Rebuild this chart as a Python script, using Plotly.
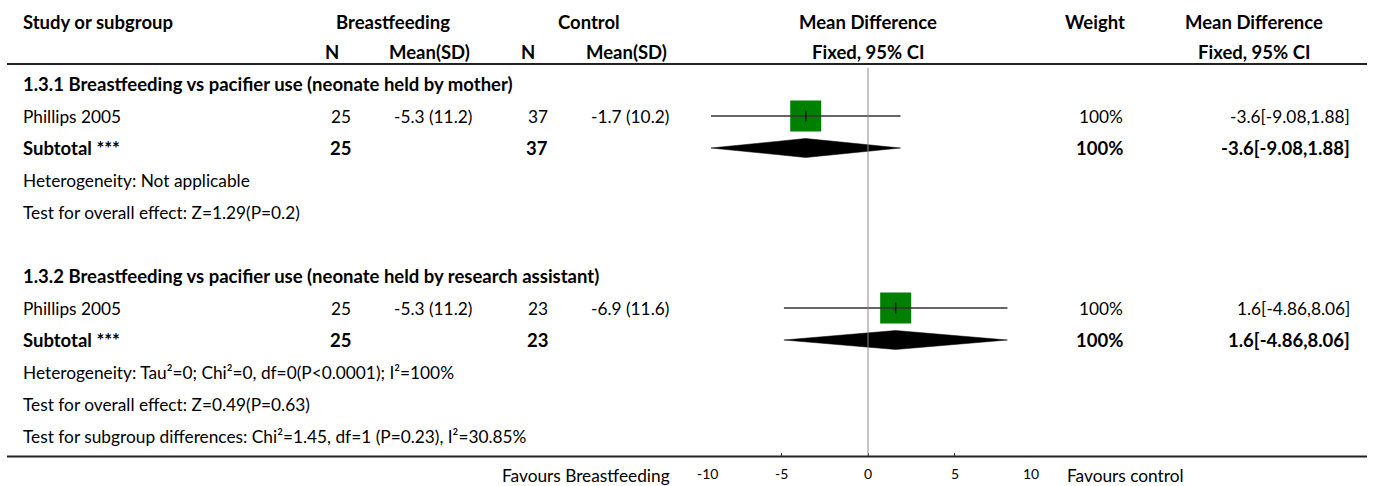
import plotly.graph_objects as go

# ---- data -------------------------------------------------------------
SUBGROUP_TITLES = [
    "1.3.1 Breastfeeding vs pacifier use (neonate held by mother)",
    "1.3.2 Breastfeeding vs pacifier use (neonate held by research assistant)",
]
STUDIES = ["Phillips 2005", "Phillips 2005"]
BF_N = [25, 25]
BF_MEAN = [-5.3, -5.3]
BF_SD = [11.2, 11.2]
CTL_N = [37, 23]
CTL_MEAN = [-1.7, -6.9]
CTL_SD = [10.2, 11.6]
MEAN_DIFF = [-3.6, 1.6]
CI_LOW = [-9.08, -4.86]
CI_HIGH = [1.88, 8.06]
WEIGHT = [100, 100]
HETEROGENEITY = [
    "Heterogeneity: Not applicable",
    "Heterogeneity: Tau²=0; Chi²=0, df=0(P<0.0001); I²=100%",
]
OVERALL_EFFECT = [
    "Test for overall effect: Z=1.29(P=0.2)",
    "Test for overall effect: Z=0.49(P=0.63)",
]
SUBGROUP_TEST = "Test for subgroup differences: Chi²=1.45, df=1 (P=0.23), I²=30.85%"
TICK_VALUES = [-10, -5, 0, 5, 10]
FAVOURS_LEFT = "Favours Breastfeeding"
FAVOURS_RIGHT = "Favours control"

# ---- layout helpers ---------------------------------------------------
W, H = 1375, 486
FONT = "Lato, Roboto, sans-serif"
FS = 17.3        # regular text
FS_BOLD = 18.5   # bold text
ROW0_PX, ROW_PX = 84, 32  # pixel centre of row 0 and row pitch


def px(x):
    return x / W


def row_of(ypx):
    return (ypx - ROW0_PX) / ROW_PX


X_LEFT_PX, X_RIGHT_PX = 695, 1041  # plot span for -10 .. 10
AXIS_Y_PX = 456.5

fig = go.Figure()

rows_study = [1 + 6 * g for g in range(len(STUDIES))]
rows_total = [2 + 6 * g for g in range(len(STUDIES))]

# weighted squares
fig.add_trace(go.Scatter(
    x=MEAN_DIFF, y=rows_study, mode="markers",
    marker=dict(symbol="square", color="#008000", opacity=1,
                size=[31 * (w / 100) ** 0.5 for w in WEIGHT],
                line=dict(width=0)),
    hoverinfo="skip", showlegend=False))

# confidence-interval whiskers (drawn over the squares)
cx, cy = [], []
for lo, hi, r in zip(CI_LOW, CI_HIGH, rows_study):
    cx += [lo, hi, None]
    cy += [r, r, None]
fig.add_trace(go.Scatter(x=cx, y=cy, mode="lines",
                         line=dict(color="#333333", width=1.5),
                         hoverinfo="skip", showlegend=False))

# point estimate tick inside each square
fig.add_trace(go.Scatter(
    x=MEAN_DIFF, y=rows_study, mode="markers",
    marker=dict(symbol="line-ns", size=8, opacity=1,
                line=dict(color="#111111", width=1.5)),
    hoverinfo="skip", showlegend=False))

# pooled diamonds
HALF = 9.5 / ROW_PX
for md, lo, hi, r in zip(MEAN_DIFF, CI_LOW, CI_HIGH, rows_total):
    fig.add_trace(go.Scatter(
        x=[lo, md, hi, md, lo], y=[r, r - HALF, r, r + HALF, r],
        mode="lines", fill="toself", fillcolor="#000000",
        line=dict(color="#000000", width=0.5),
        hoverinfo="skip", showlegend=False))

# line of no effect
fig.add_shape(type="line", xref="x", yref="y",
              x0=0, x1=0, y0=row_of(68), y1=row_of(AXIS_Y_PX),
              line=dict(color="#8c8c8c", width=1))

# horizontal rules
for ypx in (64, AXIS_Y_PX):
    fig.add_shape(type="line", xref="paper", yref="y",
                  x0=px(7), x1=px(1367), y0=row_of(ypx), y1=row_of(ypx),
                  line=dict(color="#222222", width=2))

ann = []


def text(x, y, s, anchor="left", bold=False, size=None):
    if size is None:
        size = FS_BOLD if bold else FS
    ann.append(dict(x=px(x), y=y, xref="paper", yref="y", text=s,
                    showarrow=False, xanchor=anchor, yanchor="middle",
                    font=dict(family=FONT, size=size, color="#000000",
                              weight="bold" if bold else "normal")))


# column headers
h1, h2 = row_of(22), row_of(52)
text(21, h1, "Study or subgroup", bold=True)
text(392.5, h1, "Breastfeeding", "center", True)
text(588.5, h1, "Control", "center", True)
text(868, h1, "Mean Difference", "center", True)
text(1095, h1, "Weight", "center", True)
text(1254, h1, "Mean Difference", "center", True)
text(331.7, h2, "N", "center", True)
text(429.5, h2, "Mean(SD)", "center", True)
text(528, h2, "N", "center", True)
text(626, h2, "Mean(SD)", "center", True)
text(868, h2, "Fixed, 95% CI", "center", True)
text(1254, h2, "Fixed, 95% CI", "center", True)

for g in range(len(STUDIES)):
    base = 6 * g
    ci_txt = f"{MEAN_DIFF[g]:g}[{CI_LOW[g]:g},{CI_HIGH[g]:g}]"
    text(21, base, SUBGROUP_TITLES[g], bold=True)
    # study row
    r = base + 1
    text(21, r, STUDIES[g])
    text(353, r, str(BF_N[g]), "right")
    text(474, r, f"{BF_MEAN[g]:g} ({BF_SD[g]:g})", "right")
    text(550, r, str(CTL_N[g]), "right")
    text(671, r, f"{CTL_MEAN[g]:g} ({CTL_SD[g]:g})", "right")
    text(1125, r, f"{WEIGHT[g]}%", "right")
    text(1352, r, ci_txt, "right")
    # subtotal row
    r = base + 2
    text(21, r, "Subtotal ***", bold=True)
    text(353, r, str(BF_N[g]), "right", True)
    text(550, r, str(CTL_N[g]), "right", True)
    text(1125, r, f"{WEIGHT[g]}%", "right", True)
    text(1352, r, ci_txt, "right", True)
    text(21, base + 3, HETEROGENEITY[g])
    text(21, base + 4, OVERALL_EFFECT[g])

text(21, 11, SUBGROUP_TEST)

# axis labels
lab_y = row_of(473)
for v in TICK_VALUES:
    anchor = "left" if v == TICK_VALUES[0] else ("right" if v == TICK_VALUES[-1] else "center")
    ann.append(dict(x=v, y=lab_y, xref="x", yref="y", text=str(v),
                    showarrow=False, xanchor=anchor, yanchor="middle",
                    font=dict(family=FONT, size=14, color="#000000")))
text(672, row_of(475), FAVOURS_LEFT, "right")
text(1065, row_of(475), FAVOURS_RIGHT, "left")

fig.update_layout(
    width=W, height=H, margin=dict(l=0, r=0, t=0, b=0),
    paper_bgcolor="white", plot_bgcolor="white",
    annotations=ann,
    xaxis=dict(domain=[px(X_LEFT_PX), px(X_RIGHT_PX)], range=[-10, 10],
               anchor="free", position=(H - AXIS_Y_PX) / H,
               tickvals=TICK_VALUES, ticks="inside", ticklen=4, tickwidth=1,
               tickcolor="#333333", showticklabels=False,
               showgrid=False, zeroline=False, showline=False, fixedrange=True),
    yaxis=dict(domain=[0, 1], range=[row_of(H), row_of(0)],
               visible=False, showgrid=False, zeroline=False, fixedrange=True),
)

fig.write_html("out.html", config={"displayModeBar": False})
